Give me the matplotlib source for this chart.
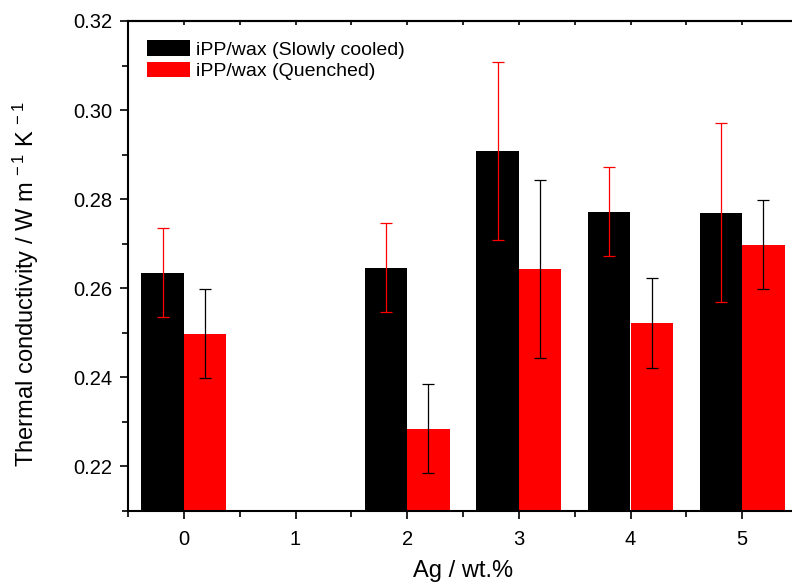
import numpy as np
import matplotlib.pyplot as plt
from matplotlib.ticker import MultipleLocator

plt.rcParams['font.family'] = ['Liberation Sans', 'DejaVu Sans']
plt.rcParams['mathtext.fontset'] = 'custom'
plt.rcParams['mathtext.rm'] = 'Liberation Sans'
plt.rcParams['mathtext.default'] = 'regular'

ag = [0, 2, 3, 4, 5]
slow = [0.2635, 0.2646, 0.2909, 0.2772, 0.2770]
slow_err = [0.010, 0.010, 0.020, 0.010, 0.020]
quench = [0.2498, 0.2285, 0.2643, 0.2522, 0.2698]
quench_err = [0.010, 0.010, 0.020, 0.010, 0.010]
xticks = [0, 1, 2, 3, 4, 5]

fig = plt.figure(figsize=(7.92, 5.87), dpi=100)
ax = fig.add_axes([128/792, 1-511/587, 670/792, 490/587])

x = np.array(ag)
w = 0.38
ax.bar(x - w/2, slow, w, color='black', label='iPP/wax (Slowly cooled)', zorder=2)
ax.bar(x + w/2, quench, w, color='red', label='iPP/wax (Quenched)', zorder=2)
ax.errorbar(x - w/2, slow, yerr=slow_err, fmt='none', ecolor='red',
            elinewidth=0.9, capsize=4, capthick=0.9, zorder=3)
ax.errorbar(x + w/2, quench, yerr=quench_err, fmt='none', ecolor='black',
            elinewidth=0.9, capsize=4, capthick=0.9, zorder=3)

ax.set_xlim(-0.5, 5.5)
ax.set_ylim(0.21, 0.32)
ax.set_xticks(xticks)
ax.xaxis.set_minor_locator(MultipleLocator(0.5))
ax.yaxis.set_major_locator(MultipleLocator(0.02))
ax.yaxis.set_minor_locator(MultipleLocator(0.01))
ax.yaxis.set_major_formatter(plt.FormatStrFormatter('%.2f'))
ax.tick_params(which='both', direction='out', width=1.2, labelsize=14.5)
ax.tick_params(which='major', length=6)
ax.tick_params(which='minor', length=4)
ax.tick_params(axis='x', which='major', pad=8)
ax.tick_params(axis='y', which='major', pad=5)
for s in ['left', 'bottom', 'top']:
    ax.spines[s].set_linewidth(1.5)
ax.spines['right'].set_visible(False)

# top axis: short inward ticks every half unit
top = ax.secondary_xaxis('top')
top.set_xticks(np.arange(-0.5, 5.51, 0.5))
top.tick_params(direction='in', length=3, width=1.2, labeltop=False)
top.spines['top'].set_linewidth(1.5)

ax.set_xlabel('Ag / wt.%', fontsize=17)
ax.xaxis.set_label_coords(0.5, -0.1)
ax.set_ylabel('Thermal conductivity / W m$^{\\,-1}$ K$^{\\,-1}$', fontsize=17)
ax.yaxis.set_label_coords(-0.13, 0.463)

ax.legend(loc='upper left', frameon=False, fontsize=14, handlelength=2.2,
          handleheight=0.82, handletextpad=0.3, labelspacing=0.15,
          borderaxespad=0.6)

fig.savefig('out.png', dpi=100)
